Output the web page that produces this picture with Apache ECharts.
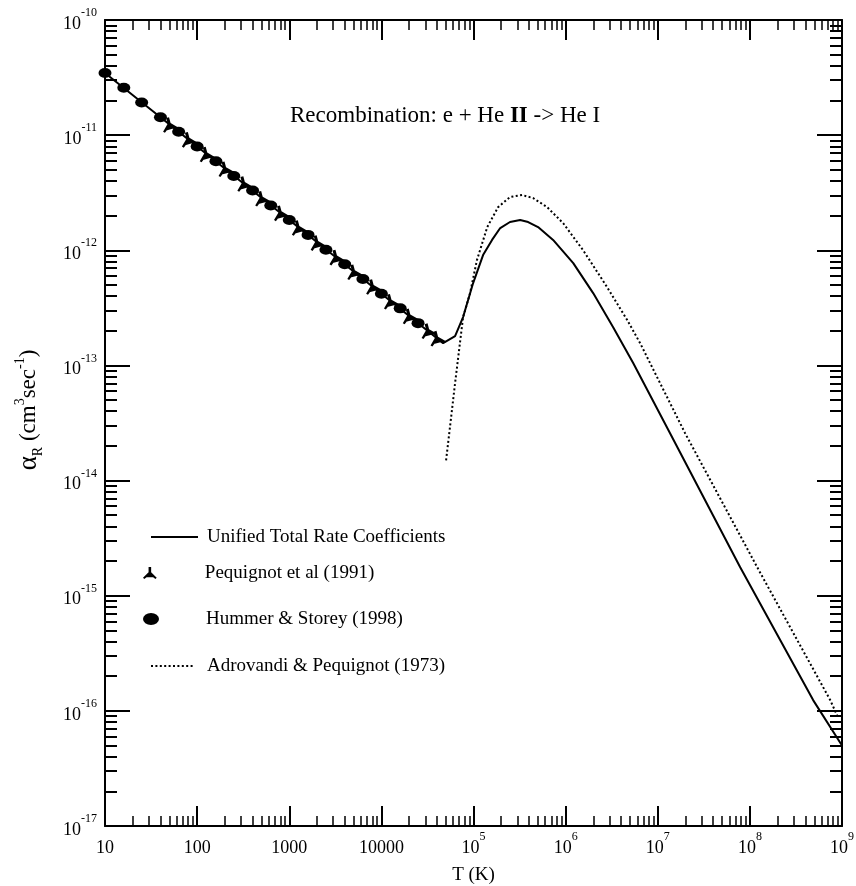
<!DOCTYPE html>
<html>
<head>
<meta charset="utf-8">
<script src="https://cdn.jsdelivr.net/npm/echarts@6/dist/echarts.min.js"></script>
<style>
  html, body { margin: 0; background: #fff; }
  #chart { width: 856px; height: 886px; }
</style>
</head>
<body>
<div id="chart"></div>
<script>
// unified total rate coefficients (solid)
const unifiedT = [10, 100, 1000, 10000, 46800, 63100, 77100, 99100, 127000, 159000, 195000, 249000, 321000,
  392000, 502000, 731000, 1210000, 1990000, 3280000, 5410000, 13600000, 78500000, 486000000, 1000000000];
const unifiedRate = [3.47e-11, 7.96e-12, 1.83e-12, 4.20e-13, 1.56e-13, 1.80e-13, 2.63e-13, 5.19e-13, 9.08e-13,
  1.23e-12, 1.56e-12, 1.76e-12, 1.83e-12, 1.76e-12, 1.59e-12, 1.23e-12, 7.74e-13, 4.25e-13, 2.15e-13, 1.05e-13,
  2.58e-14, 1.77e-15, 1.24e-16, 5.0e-17];

// Aldrovandi & Pequignot 1973 (dotted)
const aldrovandiT = [50400, 55700, 63100, 77100, 91800, 109000, 141000, 185000, 249000, 337000, 444000, 630000,
  940000, 1550000, 2820000, 4660000, 6440000, 19800000, 120000000, 745000000, 887000000];
const aldrovandiRate = [1.50e-14, 2.97e-14, 7.02e-14, 2.63e-13, 4.25e-13, 8.22e-13, 1.59e-12, 2.37e-12, 2.90e-12,
  3.02e-12, 2.84e-12, 2.37e-12, 1.72e-12, 1.00e-12, 4.79e-13, 2.48e-13, 1.56e-13, 2.58e-14, 1.77e-15, 1.24e-16, 9.1e-17];

// Hummer & Storey 1998 (filled ellipses)
const hummerT = [10, 16, 25, 40, 63, 100, 160, 250, 400, 630, 1000, 1600, 2500, 4000, 6300, 10000, 16000, 25000];
const hummerRate = [3.47e-11, 2.58e-11, 1.92e-11, 1.43e-11, 1.07e-11, 7.96e-12, 5.93e-12, 4.42e-12, 3.30e-12,
  2.45e-12, 1.83e-12, 1.36e-12, 1.01e-12, 7.56e-13, 5.63e-13, 4.20e-13, 3.13e-13, 2.33e-13];

// Pequignot et al 1991 (tri markers)
const pequignotT = [50, 80, 125, 200, 320, 500, 800, 1250, 2000, 3200, 5000, 8000, 12500, 20000, 32000, 40000];
const pequignotRate = [1.24e-11, 9.22e-12, 6.87e-12, 5.12e-12, 3.81e-12, 2.84e-12, 2.12e-12, 1.58e-12, 1.17e-12,
  8.75e-13, 6.53e-13, 4.86e-13, 3.62e-13, 2.70e-13, 2.01e-13, 1.73e-13];

// ticks
const xDecades = [10, 100, 1e3, 1e4, 1e5, 1e6, 1e7, 1e8, 1e9];
const xLabelBase = ['10', '100', '1000', '10000', '10', '10', '10', '10', '10'];
const xLabelExp = ['', '', '', '', '5', '6', '7', '8', '9'];
const yDecades = [1e-17, 1e-16, 1e-15, 1e-14, 1e-13, 1e-12, 1e-11, 1e-10];
const yLabelExp = ['-17', '-16', '-15', '-14', '-13', '-12', '-11', '-10'];

const FONT = 'Liberation Serif';
const BLACK = '#000';

function minorsOf(decades) {
  const out = [];
  for (let i = 0; i < decades.length - 1; i++) {
    for (let m = 2; m <= 9; m++) out.push(decades[i] * m);
  }
  return out;
}
const xMinor = minorsOf(xDecades);
const yMinor = minorsOf(yDecades);

function decadeIndex(decades, v) {
  return decades.findIndex(d => Math.abs(Math.log10(d) - Math.log10(v)) < 1e-6);
}

const labelRich = {
  b: { fontFamily: FONT, fontSize: 18, color: BLACK, lineHeight: 26, verticalAlign: 'bottom' },
  s: { fontFamily: FONT, fontSize: 12, color: BLACK, lineHeight: 10, verticalAlign: 'top' }
};

const pts = (xs, ys) => xs.map((x, i) => [x, ys[i]]);

// three-pronged marker: stem + two legs, with a filled core (both subpaths wound the same way)
const TRI = 'path://M6.5,0L9.5,0L9.5,6L16,12.5L14.5,14L8,9L1.5,14L0,12.5L6.5,6Z M3.5,12L8,4.5L12.5,12Z';
const ELLIPSE = 'path://M0,6A8,6,0,1,1,16,6A8,6,0,1,1,0,6Z';

function tickAxis(kind, pos, values, len, width, extra) {
  const isX = kind === 'x';
  return Object.assign({
    type: 'log',
    logBase: 10,
    min: isX ? 10 : 1e-17,
    max: isX ? 1e9 : 1e-10,
    position: pos,
    axisLine: { show: false, onZero: false },
    axisTick: { show: true, inside: true, length: len, customValues: values, lineStyle: { color: BLACK, width } },
    axisLabel: { show: false },
    splitLine: { show: false },
    minorTick: { show: false },
    minorSplitLine: { show: false }
  }, extra || {});
}

const chart = echarts.init(document.getElementById('chart'));

chart.setOption({
  backgroundColor: '#fff',
  animation: false,
  title: {
    text: 'Recombination: e + He {bb|II} -> He I',
    left: 290,
    top: 103,
    padding: 0,
    textStyle: {
      fontFamily: FONT, fontSize: 23, fontWeight: 'normal', color: BLACK, lineHeight: 26,
      rich: { bb: { fontFamily: FONT, fontSize: 23, fontWeight: 'bold', color: BLACK, lineHeight: 26 } }
    }
  },
  grid: { left: 105, right: 14, top: 20, bottom: 60, containLabel: false, outerBoundsMode: 'none' },
  legend: [
    { data: ['Unified Total Rate Coefficients'], left: 150, top: 527, itemWidth: 47, itemHeight: 14, pad: 4 },
    { data: [{ name: 'Pequignot et al (1991)', icon: TRI }], left: 143, top: 563, itemWidth: 16, itemHeight: 12, pad: 42 },
    { data: [{ name: 'Hummer & Storey (1998)', icon: ELLIPSE }], left: 143, top: 609, itemWidth: 16, itemHeight: 12, pad: 42 },
    { data: ['Adrovandi & Pequignot (1973)'], left: 150, top: 656, itemWidth: 44, itemHeight: 14, pad: 7 }
  ].map(l => {
    const pad = l.pad;
    delete l.pad;
    return Object.assign({
      orient: 'vertical', padding: 0, selectedMode: false,
      itemStyle: l.data[0].icon ? { opacity: 1, color: BLACK, borderWidth: 0 } : { opacity: 0 },
      textStyle: { fontFamily: FONT, fontSize: 19, color: BLACK, lineHeight: 20, padding: [0, 0, 0, pad] }
    }, l);
  }),
  xAxis: [
    tickAxis('x', 'bottom', xDecades, 20, 2, {
      axisLine: { show: true, onZero: false, lineStyle: { color: BLACK, width: 2 } },
      axisLabel: {
        show: true, customValues: xDecades, margin: 5, showMinLabel: true, showMaxLabel: true,
        formatter: v => {
          const i = decadeIndex(xDecades, v);
          return '{b|' + xLabelBase[i] + '}' + (xLabelExp[i] ? '{s|' + xLabelExp[i] + '}' : '');
        },
        rich: labelRich
      },
      name: 'T (K)',
      nameLocation: 'middle',
      nameGap: 40,
      nameTextStyle: { fontFamily: FONT, fontSize: 19, color: BLACK }
    }),
    tickAxis('x', 'bottom', xMinor, 10, 1.5),
    tickAxis('x', 'top', xDecades, 20, 2, {
      axisLine: { show: true, onZero: false, lineStyle: { color: BLACK, width: 2 } }
    }),
    tickAxis('x', 'top', xMinor, 10, 1.5)
  ],
  yAxis: [
    tickAxis('y', 'left', yDecades, 25, 2, {
      axisLine: { show: true, onZero: false, lineStyle: { color: BLACK, width: 2 } },
      axisLabel: {
        show: true, customValues: yDecades, margin: 8, showMinLabel: true, showMaxLabel: true,
        formatter: v => '{b|10}{s|' + yLabelExp[decadeIndex(yDecades, v)] + '}',
        rich: labelRich
      },
      name: '{a|α}{r|R}{t| (cm}{p|3}{t|sec}{p|-1}{t|)}',
      nameLocation: 'middle',
      nameGap: 60,
      nameTextStyle: {
        color: BLACK,
        padding: [0, 0, 0, 26],
        rich: {
          a: { fontFamily: FONT, fontSize: 27, color: BLACK, lineHeight: 32, verticalAlign: 'middle' },
          r: { fontFamily: FONT, fontSize: 14, color: BLACK, lineHeight: 12, verticalAlign: 'bottom' },
          t: { fontFamily: FONT, fontSize: 23, color: BLACK, lineHeight: 32, verticalAlign: 'middle' },
          p: { fontFamily: FONT, fontSize: 14, color: BLACK, lineHeight: 14, verticalAlign: 'top' }
        }
      }
    }),
    tickAxis('y', 'left', yMinor, 12, 2),
    tickAxis('y', 'right', yDecades, 25, 2, {
      axisLine: { show: true, onZero: false, lineStyle: { color: BLACK, width: 2 } }
    }),
    tickAxis('y', 'right', yMinor, 12, 2)
  ],
  series: [
    {
      name: 'Unified Total Rate Coefficients',
      type: 'line',
      data: pts(unifiedT, unifiedRate),
      symbol: 'none',
      showSymbol: false,
      lineStyle: { color: BLACK, width: 2 },
      itemStyle: { color: BLACK },
      z: 2
    },
    {
      name: 'Adrovandi & Pequignot (1973)',
      type: 'line',
      data: pts(aldrovandiT, aldrovandiRate),
      symbol: 'none',
      showSymbol: false,
      lineStyle: { color: BLACK, width: 2, type: [2, 2.4] },
      itemStyle: { color: BLACK },
      z: 2
    },
    {
      name: 'Pequignot et al (1991)',
      type: 'scatter',
      data: pts(pequignotT, pequignotRate),
      symbol: TRI,
      symbolSize: [16, 14],
      symbolRotate: 15,
      itemStyle: { color: BLACK, opacity: 1 },
      z: 4
    },
    {
      name: 'Hummer & Storey (1998)',
      type: 'scatter',
      data: pts(hummerT, hummerRate),
      symbol: ELLIPSE,
      symbolSize: [13, 10],
      itemStyle: { color: BLACK, opacity: 1 },
      z: 3
    }
  ]
});
</script>
</body>
</html>
